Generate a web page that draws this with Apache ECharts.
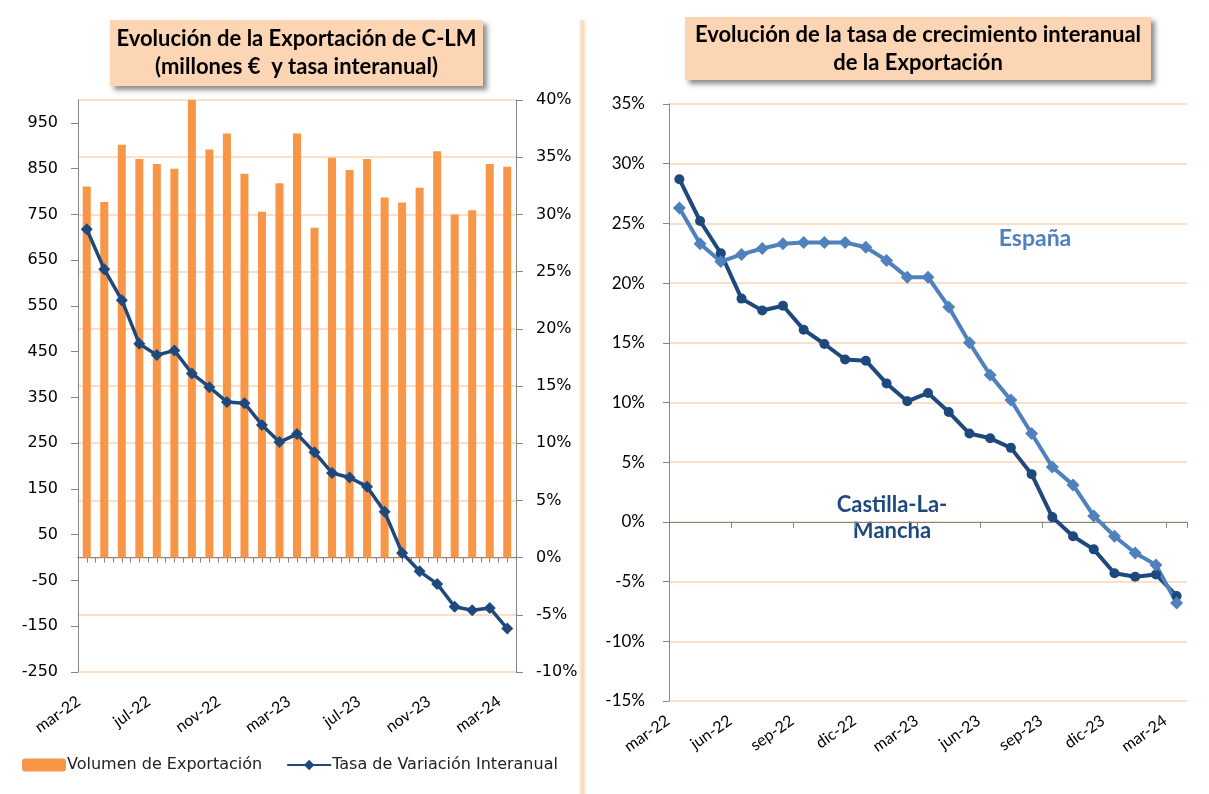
<!DOCTYPE html>
<html>
<head>
<meta charset="utf-8">
<script src="https://cdn.jsdelivr.net/npm/echarts@6/dist/echarts.min.js"></script>
<style>
  html, body { margin: 0; padding: 0; background: #fff; }
  #chart { width: 1209px; height: 794px; }
</style>
</head>
<body>
<div id="chart"></div>
<script>
// meses (mar-22 .. mar-24)
var months = ['mar-22','abr-22','may-22','jun-22','jul-22','ago-22','sep-22','oct-22','nov-22','dic-22',
  'ene-23','feb-23','mar-23','abr-23','may-23','jun-23','jul-23','ago-23','sep-23','oct-23',
  'nov-23','dic-23','ene-24','feb-24','mar-24'];

// volumen de exportacion C-LM (millones €)
var volumen = [811, 777, 902, 871, 860, 850, 1000, 892, 927, 839, 756, 818, 927,
  721, 874, 847, 871, 787, 776, 808, 888, 750, 759, 860, 854];

// tasa interanual (%)
var tasaCLM = [28.7, 25.2, 22.5, 18.7, 17.7, 18.1, 16.1, 14.9, 13.6, 13.5, 11.6, 10.1, 10.8,
  9.2, 7.4, 7.0, 6.2, 4.0, 0.4, -1.2, -2.3, -4.3, -4.6, -4.4, -6.2];
var tasaEspana = [26.3, 23.3, 21.8, 22.4, 22.9, 23.3, 23.4, 23.4, 23.4, 23.0, 21.9, 20.5, 20.5,
  18.0, 15.0, 12.3, 10.2, 7.4, 4.6, 3.1, 0.5, -1.2, -2.6, -3.6, -6.8];

var NAVY = '#1F497D', BLUE = '#4F81BD', ORANGE = '#F79646', PEACH = '#FCD5B4', GREY = '#868686';
var VERD = 'DejaVu Sans', CAL = 'Lato';

function pct(v){ return v + '%'; }

// caja de titulo con sombra
function titleBox(x, y, w, h, lines){
  return {
    type: 'group', left: x, top: y,
    children: [
      { type: 'rect', shape: { x: 0, y: 0, width: w, height: h },
        style: { fill: PEACH, shadowBlur: 5, shadowOffsetX: 4, shadowOffsetY: 4, shadowColor: 'rgba(0,0,0,0.45)' } },
      { type: 'text', x: w / 2, y: h / 2,
        style: { text: lines, fill: '#000', font: 'bold 22px ' + CAL, align: 'center', verticalAlign: 'middle', lineHeight: 28 } }
    ]
  };
}

// eje en el cero: solo linea y marcas
function zeroAxis(grid, alignCenter, tickInterval, len){
  return { type: 'category', gridIndex: grid, data: months, boundaryGap: true, position: 'bottom',
    axisLine: { show: true, onZero: true, lineStyle: { color: GREY, width: 1 } },
    axisTick: { show: true, inside: false, alignWithLabel: alignCenter, interval: tickInterval, length: len, lineStyle: { color: GREY } },
    axisLabel: { show: false }, splitLine: { show: false } };
}

var chart = echarts.init(document.getElementById('chart'), null, { renderer: 'canvas' });

var option = {
  animation: false,
  backgroundColor: '#fff',
  grid: [
    { left: 78, top: 100, width: 438, height: 572 },
    { left: 669, top: 104, width: 518, height: 597 }
  ],
  legend: {
    left: 17, top: 752, itemWidth: 44, itemHeight: 13, itemGap: 24,
    data: ['Volumen de Exportación', 'Tasa de Variación Interanual'],
    textStyle: { fontFamily: VERD, fontSize: 16, color: '#222', padding: [0, 0, 0, -4] }
  },
  xAxis: [
    // etiquetas abajo (izq)
    { type: 'category', gridIndex: 0, data: months, boundaryGap: true, position: 'bottom',
      axisLine: { show: false, onZero: false }, axisTick: { show: false }, splitLine: { show: false },
      axisLabel: { interval: 3, rotate: 35, margin: 22, padding: [0, 10, 0, 0], fontFamily: CAL, fontSize: 16, color: '#000' } },
    zeroAxis(0, false, 0, 5),
    zeroAxis(0, true, 0, 5),
    // etiquetas abajo (dcha)
    { type: 'category', gridIndex: 1, data: months, boundaryGap: true, position: 'bottom',
      axisLine: { show: false, onZero: false }, axisTick: { show: false }, splitLine: { show: false },
      axisLabel: { interval: 2, rotate: 35, margin: 10, padding: [0, 14, 0, 0], fontFamily: CAL, fontSize: 16, color: '#000' } },
    zeroAxis(1, false, 2, 6)
  ],
  yAxis: [
    { type: 'value', gridIndex: 0, min: -250, max: 1000, interval: 100, position: 'left',
      axisLine: { show: true, lineStyle: { color: GREY } },
      axisTick: { show: true, length: 7, lineStyle: { color: GREY } },
      axisLabel: { showMaxLabel: false, margin: 20, fontFamily: VERD, fontSize: 16, color: '#000' },
      splitLine: { show: false } },
    { type: 'value', gridIndex: 0, min: -10, max: 40, interval: 5, position: 'right',
      axisLine: { show: true, lineStyle: { color: GREY } },
      axisTick: { show: true, length: 7, lineStyle: { color: GREY } },
      axisLabel: { formatter: pct, margin: 20, fontFamily: VERD, fontSize: 16, color: '#000' },
      splitLine: { show: true, lineStyle: { color: PEACH, width: 1.5 } } },
    { type: 'value', gridIndex: 1, min: -15, max: 35, interval: 5,
      axisLine: { show: true, lineStyle: { color: GREY } },
      axisTick: { show: true, length: 6, lineStyle: { color: GREY } },
      axisLabel: { formatter: pct, margin: 24, fontFamily: CAL, fontSize: 17, color: '#000' },
      splitLine: { show: true, lineStyle: { color: PEACH, width: 1.5 } } }
  ],
  series: [
    { name: 'Volumen de Exportación', type: 'bar', xAxisIndex: 0, yAxisIndex: 0,
      data: volumen, barWidth: 8, itemStyle: { color: ORANGE } },
    { name: 'Tasa de Variación Interanual', type: 'line', xAxisIndex: 0, yAxisIndex: 1,
      data: tasaCLM, symbol: 'diamond', symbolSize: 12, showAllSymbol: true,
      lineStyle: { color: NAVY, width: 3.5 }, itemStyle: { color: NAVY } },
    { name: 'Castilla-La-Mancha', type: 'line', xAxisIndex: 3, yAxisIndex: 2,
      data: tasaCLM, symbol: 'circle', symbolSize: 10, showAllSymbol: true,
      lineStyle: { color: NAVY, width: 4 }, itemStyle: { color: NAVY } },
    { name: 'España', type: 'line', xAxisIndex: 3, yAxisIndex: 2,
      data: tasaEspana, symbol: 'diamond', symbolSize: 13, showAllSymbol: true,
      lineStyle: { color: BLUE, width: 4 }, itemStyle: { color: BLUE } }
  ],
  graphic: [
    // separador entre paneles
    { type: 'rect', left: 578, top: 20, shape: { width: 9, height: 774 },
      style: { fill: new echarts.graphic.LinearGradient(0, 0, 1, 0, [
        { offset: 0, color: 'rgba(252,213,180,0)' },
        { offset: 0.5, color: 'rgba(250,200,160,0.8)' },
        { offset: 1, color: 'rgba(252,213,180,0)' }]) } },
    titleBox(110, 20, 373, 66, 'Evolución de la Exportación de C-LM\n(millones €  y tasa interanual)'),
    titleBox(685, 17, 466, 63, 'Evolución de la tasa de crecimiento interanual\nde la Exportación'),
    { type: 'text', x: 1035, y: 239,
      style: { text: 'España', fill: BLUE, font: 'bold 23px ' + CAL, align: 'center', verticalAlign: 'middle' } },
    { type: 'text', x: 892, y: 518,
      style: { text: 'Castilla-La-\nMancha', fill: NAVY, font: 'bold 22px ' + CAL, align: 'center', verticalAlign: 'middle', lineHeight: 26 } }
  ]
};

chart.setOption(option);
</script>
</body>
</html>
